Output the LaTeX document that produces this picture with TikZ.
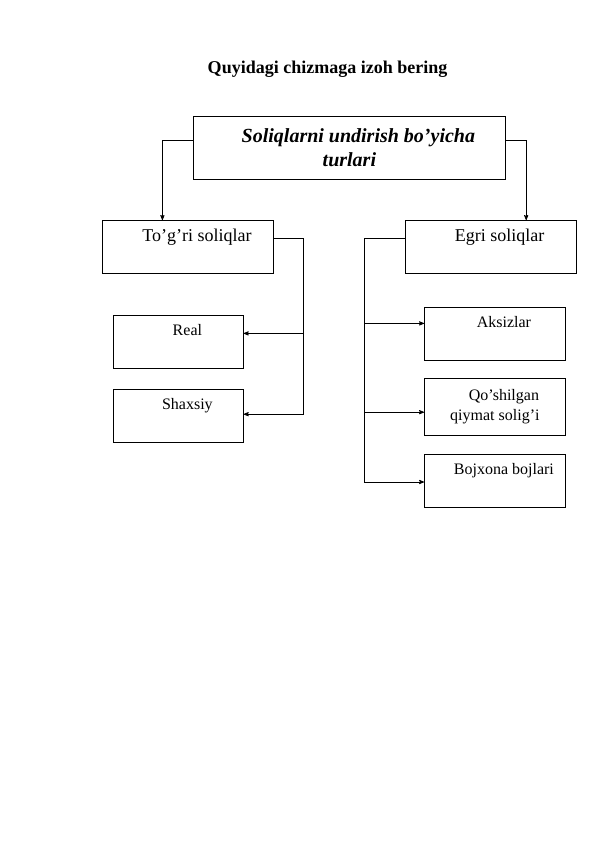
\documentclass[tikz,border=0pt]{standalone}
\usepackage{fontspec}
\setmainfont{Liberation Serif}
\usepackage{tikz}
\usetikzlibrary{arrows,positioning}
\newcommand{\xatboshi}{\hspace*{18pt}}

\begin{document}
\begin{tikzpicture}[->,>=stealth', line width=0.8pt, node distance=17pt, draw=black]
	\tikzset{box/.style={draw, -, rectangle, inner xsep=0pt, inner ysep=0pt, anchor=north west, font=\fontsize{18}{20}\selectfont}}
	\tikzstyle{leaf}=[box, minimum width=141pt, text height=20pt, text depth=33pt, font=\fontsize{16}{20}\selectfont]

	\useasboundingbox (0,0) rectangle (596pt,-842pt);

	%BLOKLAR
	\node (title) at (327.5pt,-69pt) {\fontsize{18}{20}\selectfont\bfseries Quyidagi chizmaga izoh bering};
	\node[box, minimum width=312pt, minimum height=63pt, align=center, font=\fontsize{20}{24}\selectfont\bfseries\itshape] (tur) at (193pt,-116pt) {\xatboshi Soliqlarni undirish bo’yicha\\turlari};
	\node[box, minimum width=171pt, text height=21pt, text depth=32pt] (togri) at (102pt,-220pt) {\xatboshi To’g’ri soliqlar};
	\node[box, minimum width=171pt, text height=21pt, text depth=32pt, right=131pt of togri] (egri) {\xatboshi Egri soliqlar};

	\node[leaf, minimum width=130pt] (real) at (113pt,-315pt) {\xatboshi Real};
	\node[leaf, minimum width=130pt, below=20pt of real] (shaxsiy) {\xatboshi Shaxsiy};

	\node[leaf] (aksiz) at (424pt,-307pt) {\xatboshi Aksizlar};
	\node[box, minimum width=141pt, minimum height=57pt, align=center, font=\fontsize{16}{20}\selectfont, below=17pt of aksiz] (qqs) {\xatboshi Qo’shilgan\\qiymat solig’i};
	\node[leaf, below=18pt of qqs] (bojxona) {\xatboshi Bojxona bojlari};

	\coordinate (chap) at (303pt,-238pt);
	\coordinate (ong) at (364pt,-238pt);

	%STRELKALAR
	\draw ([yshift=7.5pt]tur.west) -| ([xshift=-25.5pt]togri.north);
	\draw ([yshift=7.5pt]tur.east) -| ([xshift=35.5pt]egri.north);

	\draw[-] (togri.east |- chap) -- (chap);
	\draw (chap) |- ([yshift=8.5pt]real.east);
	\draw (chap) |- ([yshift=1.5pt]shaxsiy.east);

	\draw[-] (egri.west |- ong) -- (ong);
	\draw (ong) |- ([yshift=10.5pt]aksiz.west);
	\draw (ong) |- ([yshift=-5.5pt]qqs.west);
	\draw (ong) |- ([yshift=-1.5pt]bojxona.west);
\end{tikzpicture}
\end{document}
